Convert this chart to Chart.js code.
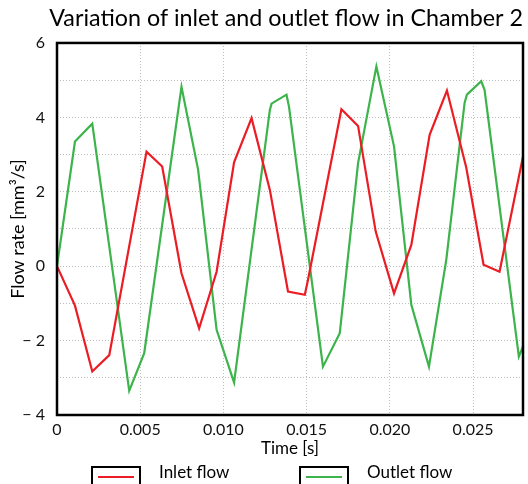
<!DOCTYPE html>
<html>
<head>
<meta charset="utf-8">
<script src="https://cdn.jsdelivr.net/npm/chart.js@4.4.1/dist/chart.umd.min.js"></script>
<style>
  html, body { margin: 0; padding: 0; background: #fff; }
  #wrap { width: 528px; height: 484px; }
</style>
</head>
<body>
<div id="wrap"><canvas id="kamer2" width="528" height="484"></canvas></div>
<script>
/* Kamer 2: in- en uitstroom over de tijd */

const TITEL = 'Variation of inlet and outlet flow in Chamber 2';
const X_TITEL = 'Time [s]';
const Y_TITEL = 'Flow rate [mm³/s]';

const inletTijd   = [0, 0.00108, 0.00212, 0.00314, 0.00538, 0.00632, 0.00748, 0.00854, 0.00959, 0.01064,
                     0.01169, 0.01279, 0.01388, 0.01489, 0.01508, 0.01709, 0.01809, 0.01915, 0.02025, 0.02129,
                     0.02239, 0.02343, 0.02459, 0.02563, 0.02659, 0.028];
const inletDebiet = [0, -1.06, -2.83, -2.39, 3.08, 2.68, -0.19, -1.67, -0.15, 2.79,
                     3.98, 2.05, -0.68, -0.77, -0.37, 4.22, 3.77, 0.93, -0.73, 0.57,
                     3.53, 4.72, 2.65, 0.04, -0.15, 2.95];

const outletTijd   = [0, 0.00108, 0.00212, 0.00434, 0.00524, 0.00748, 0.00848, 0.00959, 0.01064, 0.01279,
                      0.01289, 0.01379, 0.01394, 0.01598, 0.01699, 0.01809, 0.01919, 0.02025, 0.02129, 0.02235,
                      0.02339, 0.02449, 0.02463, 0.02549, 0.02569, 0.02775, 0.028];
const outletDebiet = [0, 3.35, 3.83, -3.35, -2.34, 4.82, 2.59, -1.71, -3.13, 4.2,
                      4.37, 4.61, 4.29, -2.7, -1.8, 2.77, 5.37, 3.22, -1.04, -2.7,
                      0.17, 4.39, 4.61, 4.97, 4.74, -2.43, -2.16];

const xTicks = [0, 0.005, 0.010, 0.015, 0.020, 0.025];
const yTicks = [-4, -2, 0, 2, 4, 6];

const LETTER = 'Lato';

/* ---------- plugins ---------- */

// zwarte kader rond het plotvlak
const kader = {
  id: 'kader',
  afterDatasetsDraw(chart) {
    const { ctx, chartArea: a } = chart;
    ctx.save();
    ctx.strokeStyle = '#000';
    ctx.lineWidth = 2.5;
    ctx.strokeRect(a.left, a.top, a.right - a.left, a.bottom - a.top);
    ctx.restore();
  }
};

// legenda onderaan: omkaderd lijntje + tekst
const legenda = {
  id: 'legenda',
  afterDraw(chart) {
    const { ctx } = chart;
    const boxX = [92, 300];
    const tekstX = [159, 367];
    const top = 467;
    chart.data.datasets.forEach((ds, i) => {
      ctx.save();
      ctx.strokeStyle = '#000';
      ctx.lineWidth = 2;
      ctx.strokeRect(boxX[i], top, 48, 30);
      ctx.strokeStyle = ds.borderColor;
      ctx.lineWidth = 2;
      ctx.beginPath();
      ctx.moveTo(boxX[i] + 6, top + 10);
      ctx.lineTo(boxX[i] + 42, top + 10);
      ctx.stroke();
      ctx.fillStyle = '#000';
      ctx.font = `17px ${LETTER}`;
      ctx.textBaseline = 'alphabetic';
      ctx.fillText(ds.label, tekstX[i], top + 11);
      ctx.restore();
    });
  }
};

/* ---------- grafiek ---------- */

const fmtY = v => v < 0 ? '\u2212 ' + Math.abs(v) : String(v);
const fmtX = v => v === 0 ? '0' : v.toFixed(3);

new Chart(document.getElementById('kamer2'), {
  type: 'line',
  data: {
    datasets: [
      {
        label: 'Inlet flow',
        data: inletTijd.map((t, i) => ({ x: t, y: inletDebiet[i] })),
        borderColor: '#ec1c24',
        borderWidth: 2.2,
        pointRadius: 0,
        tension: 0,
        fill: false
      },
      {
        label: 'Outlet flow',
        data: outletTijd.map((t, i) => ({ x: t, y: outletDebiet[i] })),
        borderColor: '#3cb44b',
        borderWidth: 2.2,
        pointRadius: 0,
        tension: 0,
        fill: false
      }
    ]
  },
  options: {
    responsive: false,
    animation: false,
    devicePixelRatio: 1,
    layout: { padding: { left: 0, right: 5, top: 0, bottom: 0 } },
    plugins: {
      legend: { display: false },
      tooltip: { enabled: false },
      title: {
        display: true,
        text: TITEL,
        align: 'end',
        color: '#000',
        font: { family: LETTER, size: 23.3, weight: 'normal' },
        padding: { top: 4, bottom: 11 }
      }
    },
    scales: {
      x: {
        type: 'linear',
        min: 0,
        max: 0.028,
        afterBuildTicks: s => { s.ticks = xTicks.map(v => ({ value: v })); },
        afterFit: s => { s.height = 69; },
        ticks: {
          callback: fmtX,
          padding: 5,
          color: '#111',
          font: { family: LETTER, size: 16 },
          maxRotation: 0
        },
        grid: { color: '#bdbdbd', lineWidth: 1, drawTicks: false },
        border: { display: false, dash: [1, 2] },
        title: {
          display: true,
          text: X_TITEL,
          color: '#000',
          font: { family: LETTER, size: 17 },
          padding: { top: 0, bottom: 25 }
        }
      },
      y: {
        min: -4,
        max: 6,
        afterFit: s => { s.width = 57; },
        ticks: {
          stepSize: 1,
          callback: v => yTicks.includes(v) ? fmtY(v) : '',
          padding: 12,
          color: '#111',
          font: { family: LETTER, size: 16 }
        },
        grid: { color: '#bdbdbd', lineWidth: 1, drawTicks: false },
        border: { display: false, dash: [1, 2] },
        title: {
          display: true,
          text: Y_TITEL,
          color: '#000',
          font: { family: LETTER, size: 18 },
          padding: { top: 7, bottom: 0 }
        }
      }
    }
  },
  plugins: [kader, legenda]
});
</script>
</body>
</html>
